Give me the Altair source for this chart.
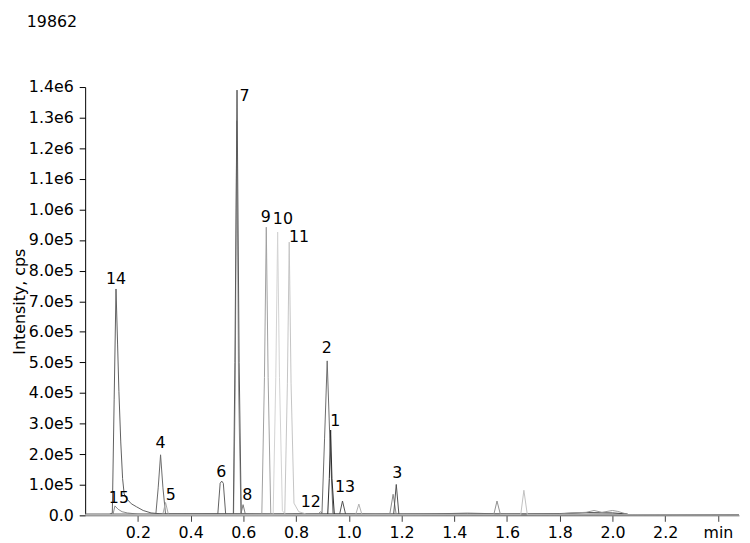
import altair as alt
import pandas as pd

# ---- trace data (time in min, intensity in cps) ----
trace_names = ["noise", "hump", "14", "15", "4", "5", "6", "7b", "7", "8", "9", "10", "11",
               "12", "2", "1", "13", "u104", "3b", "3", "u156", "u166"]
trace_colors = ["#3a3a3a", "#9a9a9a", "#5f5f5f", "#8c8c8c", "#6a6a6a", "#a8a8a8", "#606060",
                "#9a9a9a", "#5a5a5a", "#7a7a7a", "#a0a0a0", "#d2d2d2", "#c4c4c4",
                "#8a8a8a", "#6c6c6c", "#2a2a2a", "#505050", "#b0b0b0", "#8a8a8a", "#505050",
                "#909090", "#c0c0c0"]

trace_times = {
    "noise": [0.0, 0.3, 0.5, 0.7, 0.9, 1.1, 1.3, 1.45, 1.6, 1.8, 1.9, 2.0, 2.05, 2.07, 2.48],
    "hump": [0.0, 1.80, 1.85, 1.90, 1.93, 1.96, 2.00, 2.02, 2.055, 2.07, 2.48],
    "14": [0.0, 0.09, 0.103, 0.110, 0.117, 0.123, 0.128, 0.135, 0.142, 0.148, 0.160, 0.175,
           0.195, 0.22, 0.25, 0.30, 1.0, 2.05, 2.08, 2.48],
    "15": [0.0, 0.100, 0.106, 0.113, 0.125, 0.140, 0.160, 0.20, 0.24, 2.48],
    "4": [0.0, 0.268, 0.277, 0.286, 0.295, 0.305, 2.48],
    "5": [0.0, 0.294, 0.305, 0.316, 2.48],
    "6": [0.0, 0.503, 0.512, 0.518, 0.524, 0.533, 2.48],
    "7b": [0.0, 0.563, 0.569, 0.575, 0.582, 0.591, 2.48],
    "7": [0.0, 0.562, 0.568, 0.576, 0.584, 0.592, 2.48],
    "8": [0.0, 0.590, 0.599, 0.608, 2.48],
    "9": [0.0, 0.670, 0.680, 0.687, 0.694, 0.704, 2.48],
    "10": [0.0, 0.713, 0.723, 0.730, 0.737, 0.748, 0.760, 2.48],
    "11": [0.0, 0.757, 0.767, 0.774, 0.781, 0.792, 0.810, 0.840, 2.48],
    "12": [0.0, 0.880, 0.893, 0.903, 2.48],
    "2": [0.0, 0.898, 0.908, 0.918, 0.928, 0.940, 2.48],
    "1": [0.0, 0.920, 0.926, 0.931, 0.936, 0.945, 2.48],
    "13": [0.0, 0.965, 0.976, 0.988, 2.48],
    "u104": [0.0, 1.026, 1.038, 1.050, 2.48],
    "3b": [0.0, 1.155, 1.168, 1.180, 2.48],
    "3": [0.0, 1.170, 1.180, 1.190, 2.48],
    "u156": [0.0, 1.550, 1.562, 1.575, 2.48],
    "u166": [0.0, 1.652, 1.664, 1.677, 2.48],
}
trace_values = {
    "noise": [1000, 4000, 5000, 4000, 6000, 4000, 5000, 7000, 5000, 6000, 9000, 8000, 5000, 1000, 1000],
    "hump": [4000, 5000, 8000, 10000, 16000, 10000, 16000, 13000, 4000, 1000, 1000],
    "14": [2000, 2000, 8000, 380000, 740000, 560000, 404000, 240000, 120000, 70000, 52000, 38000,
           28000, 16000, 8000, 4000, 3000, 4000, 500, 500],
    "15": [1000, 1000, 5000, 31000, 20000, 12000, 8000, 4000, 2000, 0],
    "4": [3000, 3000, 90000, 198000, 90000, 4000, 500],
    "5": [2000, 2000, 42000, 2000, 500],
    "6": [3000, 3000, 105000, 112000, 105000, 3000, 500],
    "7b": [2000, 2000, 400000, 1290000, 400000, 2000, 500],
    "7": [3000, 3000, 500000, 1390000, 500000, 3000, 500],
    "8": [2000, 2000, 35000, 2000, 500],
    "9": [2000, 2000, 450000, 942000, 450000, 3000, 500],
    "10": [2000, 2000, 450000, 926000, 450000, 15000, 3000, 500],
    "11": [2000, 2000, 430000, 893000, 430000, 40000, 12000, 4000, 500],
    "12": [2000, 2000, 12000, 2000, 500],
    "2": [3000, 3000, 250000, 505000, 250000, 5000, 500],
    "1": [3000, 3000, 120000, 279000, 120000, 3000, 500],
    "13": [3000, 3000, 47000, 3000, 500],
    "u104": [2000, 2000, 37000, 2000, 500],
    "3b": [2000, 2000, 69000, 2000, 500],
    "3": [3000, 3000, 101000, 3000, 500],
    "u156": [3000, 3000, 47000, 3000, 500],
    "u166": [2000, 2000, 82000, 2000, 500],
}

# ---- peak labels ----
label_text = ["14", "15", "4", "5", "6", "7", "8", "9", "10", "11", "12", "2", "1", "13", "3"]
label_time = [0.117, 0.128, 0.286, 0.325, 0.516, 0.604, 0.615, 0.685, 0.750, 0.811,
              0.856, 0.916, 0.949, 0.986, 1.184]
label_value = [747000, 32000, 210000, 42000, 116000, 1345000, 42000, 950000, 942000, 883000,
               19000, 522000, 281000, 68000, 113000]

x_ticks = [0.2, 0.4, 0.6, 0.8, 1.0, 1.2, 1.4, 1.6, 1.8, 2.0, 2.2, 2.4]
y_ticks = [i * 100000 for i in range(15)]

rows = []
for name in trace_names:
    for i, (t, v) in enumerate(zip(trace_times[name], trace_values[name])):
        rows.append({"trace": name, "t": t, "v": v, "i": i})
df = pd.DataFrame(rows)
labels = pd.DataFrame({"label": label_text, "t": label_time, "v": label_value})

FONT = "DejaVu Sans"
FS = 16

xscale = alt.Scale(domain=[0, 2.48], nice=False, zero=False)
yscale = alt.Scale(domain=[0, 1400000], nice=False)

xaxis = alt.Axis(values=x_ticks, title=None, grid=False,
                 labelExpr="datum.value > 2.3 ? 'min' : format(datum.value, '.1f')",
                 domainColor="#808080", tickColor="#404040", tickSize=6,
                 labelPadding=3, labelFontSize=FS, labelFont=FONT,
                 labelColor="black", labelFlush=False, labelOverlap=False)
yaxis = alt.Axis(values=y_ticks, title="Intensity, cps", grid=False,
                 labelExpr="datum.value == 0 ? '0.0' : (datum.value < 1000000 ? format(datum.value / 100000, '.1f') + 'e5' : format(datum.value / 1000000, '.1f') + 'e6')",
                 domainColor="black", tickColor="black", tickSize=6,
                 labelPadding=6, labelFontSize=FS, labelFont=FONT,
                 labelColor="black", titleFont=FONT, titleFontSize=16,
                 titleFontWeight="normal", titleColor="black", titlePadding=1,
                 labelFlush=False, labelOverlap=False)

X = alt.X("t:Q", scale=xscale, axis=xaxis)
Y = alt.Y("v:Q", scale=yscale, axis=yaxis)

lines = alt.Chart(df).mark_line(strokeWidth=1, clip=True).encode(
    x=X,
    y=Y,
    color=alt.Color("trace:N", scale=alt.Scale(domain=trace_names, range=trace_colors), legend=None),
    order="i:Q",
    detail="trace:N",
)

text = alt.Chart(labels).mark_text(font=FONT, fontSize=FS, baseline="bottom", align="center",
                                   color="black").encode(
    x=X,
    y=Y,
    text="label:N",
)

chart = alt.layer(lines, text).properties(
    width=661, height=433,
    title=alt.TitleParams("19862", anchor="start", dx=-59, offset=50, fontSize=FS, font=FONT,
                          fontWeight="normal", color="black", frame="group"),
    autosize=alt.AutoSizeParams(type="none"),
    padding={"left": 78, "top": 77, "right": 3, "bottom": 24},
).configure_view(stroke=None)

chart.save("out.html", embed_options={"renderer": "svg", "actions": False})
